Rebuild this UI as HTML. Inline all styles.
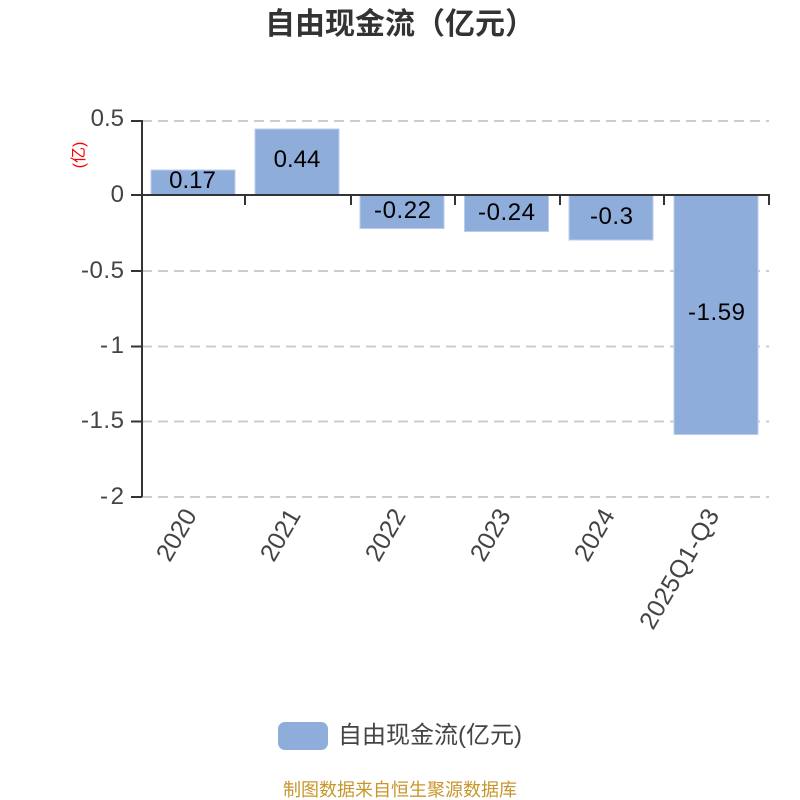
<!DOCTYPE html>
<html><head><meta charset="utf-8"><style>
html,body{margin:0;padding:0;background:#fff;width:800px;height:800px;overflow:hidden}
svg{display:block}
text{font-family:"Liberation Sans","Noto Sans CJK SC",sans-serif}
</style></head><body>
<svg width="800" height="800" viewBox="0 0 800 800" xmlns="http://www.w3.org/2000/svg">
<rect width="800" height="800" fill="#fff"/>
<text x="400" y="34" font-size="30" font-weight="bold" fill="#333" text-anchor="middle">自由现金流（亿元）</text>
<g stroke="#ccc" stroke-width="2" stroke-dasharray="10 6" fill="none">
<path d="M142 121H769M142 271H769M142 346.500H769M142 421.500H769M142 497H769"/>
</g>
<g fill="#8eadda" stroke="#b9cdea" stroke-width="1">
<rect x="151" y="170" width="84" height="25"/>
<rect x="255" y="129" width="84" height="66"/>
<rect x="360" y="195" width="84" height="33.500"/>
<rect x="464.500" y="195" width="84" height="36.500"/>
<rect x="569" y="195" width="84" height="45"/>
<rect x="674" y="195" width="84" height="239.500"/>
</g>
<g stroke="#333" stroke-width="2" fill="none">
<path d="M142 120V497"/>
<path d="M141 195H770"/>
<path d="M131 121H142M131 195H142M131 271H142M131 346.500H142M131 421.500H142M131 497H142"/>
<path d="M245 195V205M351 195V205M455 195V205M560 195V205M664 195V205M769 195V205"/>
</g>
<g font-size="24" fill="#444" text-anchor="end">
<text x="124" y="126">0.5</text>
<text x="124" y="202">0</text>
<text x="124" y="278" textLength="43">-0.5</text>
<text x="124" y="353" textLength="24">-1</text>
<text x="124" y="428" textLength="43">-1.5</text>
<text x="124" y="504" textLength="24">-2</text>
</g>
<text transform="translate(84 155) rotate(-90)" font-size="16" fill="#f00" text-anchor="middle">(亿)</text>
<g font-size="24" fill="#000" text-anchor="middle">
<text x="192.500" y="188">0.17</text>
<text x="297" y="167">0.44</text>
<text x="402.500" y="218" textLength="57">-0.22</text>
<text x="506.500" y="220" textLength="57">-0.24</text>
<text x="611.500" y="224" textLength="43">-0.3</text>
<text x="716.500" y="320" textLength="57">-1.59</text>
</g>
<g font-size="25" fill="#444" text-anchor="end">
<text transform="translate(197.500 515) rotate(-60)">2020</text>
<text transform="translate(301.500 515) rotate(-60)">2021</text>
<text transform="translate(406.500 515) rotate(-60)">2022</text>
<text transform="translate(511.500 515) rotate(-60)">2023</text>
<text transform="translate(615.500 515) rotate(-60)">2024</text>
<text transform="translate(720 515) rotate(-60)" textLength="134">2025Q1-Q3</text>
</g>
<rect x="278" y="722" width="50" height="28" rx="7" fill="#8eadda"/>
<text x="338" y="743" font-size="24" fill="#444">自由现金流(亿元)</text>
<text x="400" y="796" font-size="18" fill="#c8962c" text-anchor="middle">制图数据来自恒生聚源数据库</text>
</svg>
</body></html>
